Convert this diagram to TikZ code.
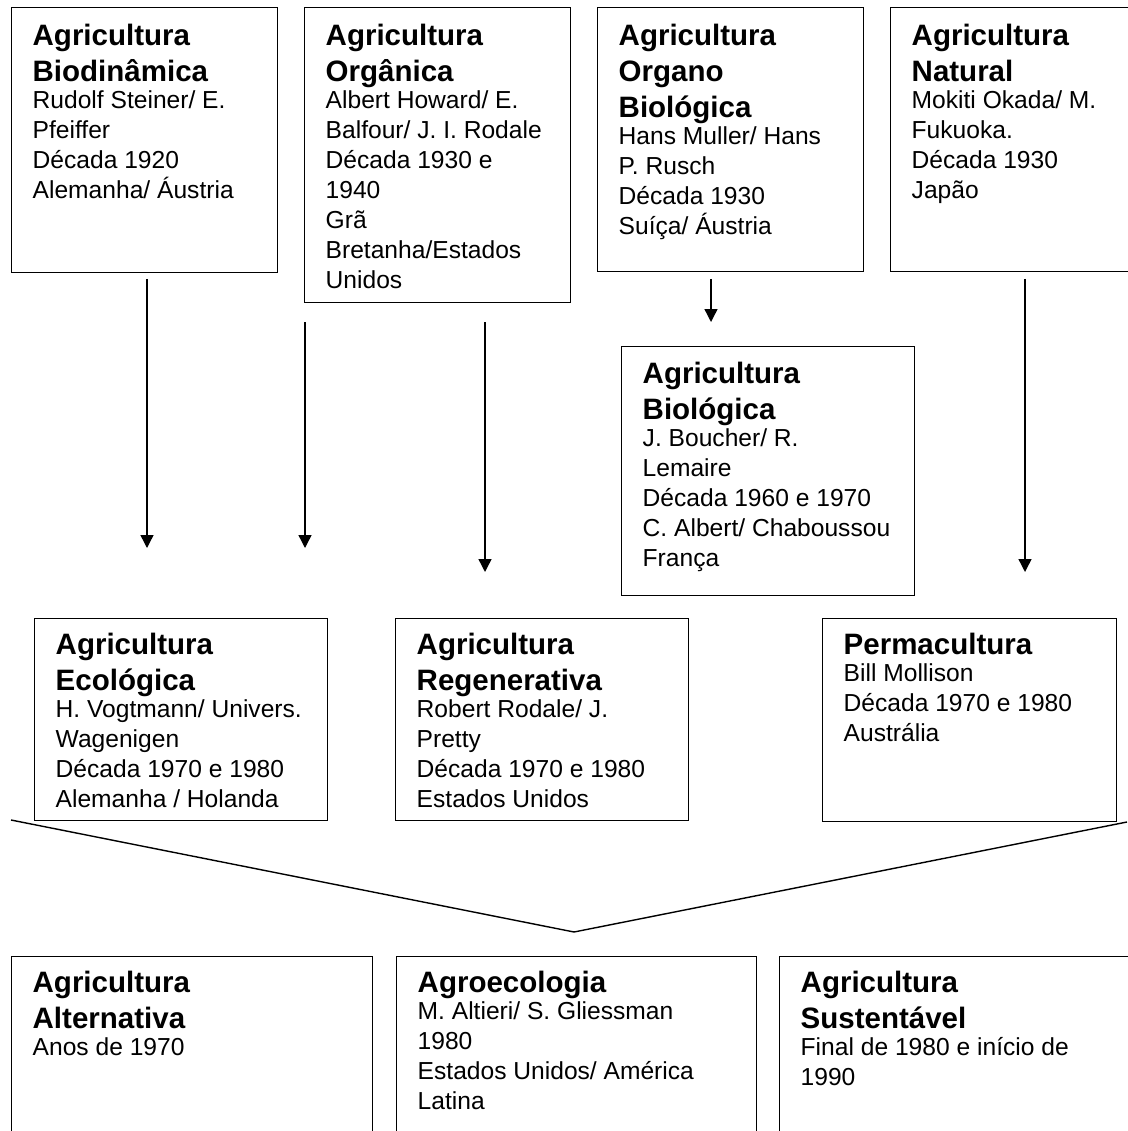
\documentclass[tikz,border=0pt]{standalone}
\usepackage{fontspec}
\setmainfont{Liberation Sans}
\usetikzlibrary{arrows.meta}
\newcommand{\agtit}{\fontsize{29.5}{36}\selectfont\bfseries\spaceskip=0.278em\relax}
\newcommand{\agtxt}{\fontsize{24.6}{30}\selectfont\spaceskip=0.278em\relax}
\newcommand{\agr}[2]{{\agtit #1\par}\vspace{-3pt}{\agtxt #2\par}}

\begin{document}
\begin{tikzpicture}[x=1pt,y=-1pt
  ,>={Triangle[length=13pt,width=13pt]}
  ,line width=1.4pt]
  \tikzstyle{agbox}=[draw,rectangle,anchor=north west,align=left
  ,inner xsep=21pt,inner ysep=0pt,text height=38pt]

  \useasboundingbox (0,0) rectangle (1127,1131);

  % top row
  \node[agbox,text width=224pt,text depth=227pt] (bd) at (11,7)
  {\agr{Agricultura\\Biodinâmica}{Rudolf Steiner/ E.\\Pfeiffer\\Década 1920\\Alemanha/ Áustria}};
  \node[agbox,text width=224pt,text depth=257pt] (org) at (304,7)
  {\agr{Agricultura\\Orgânica}{Albert Howard/ E.\\Balfour/ J. I. Rodale\\Década 1930 e\\1940\\Grã\\Bretanha/Estados\\Unidos}};
  \node[agbox,text width=224pt,text depth=226pt] (orgbio) at (597,7)
  {\agr{Agricultura\\Organo\\Biológica}{Hans Muller/ Hans\\P. Rusch\\Década 1930\\Suíça/ Áustria}};
  \node[agbox,text width=224pt,text depth=226pt] (nat) at (890,7)
  {\agr{Agricultura\\Natural}{Mokiti Okada/ M.\\Fukuoka.\\Década 1930\\Japão}};
  \node[agbox,text width=251pt,text height=37pt,text depth=212pt] (bio) at (621,346)
  {\agr{Agricultura\\Biológica}{J. Boucher/ R.\\Lemaire\\Década 1960 e 1970\\C. Albert/ Chaboussou\\França}};

  % middle row
  \node[agbox,text width=251pt,text height=36pt,text depth=166pt] (eco) at (34,618)
  {\agr{Agricultura\\Ecológica}{H. Vogtmann/ Univers.\\Wagenigen\\Década 1970 e 1980\\Alemanha / Holanda}};
  \node[agbox,text width=251pt,text height=36pt,text depth=166pt] (reg) at (395,618)
  {\agr{Agricultura\\Regenerativa}{Robert Rodale/ J.\\Pretty\\Década 1970 e 1980\\Estados Unidos}};
  \node[agbox,text width=252pt,text height=36pt,text depth=167pt] (perm) at (822,618)
  {\agr{Permacultura}{Bill Mollison\\Década 1970 e 1980\\Austrália}};

  % bottom row
  \node[agbox,text width=319pt,text height=36pt,text depth=200pt] (alt) at (11,956)
  {\agr{Agricultura\\Alternativa}{Anos de 1970}};
  \node[agbox,text width=318pt,text height=36pt,text depth=200pt] (agro) at (396,956)
  {\agr{Agroecologia}{M. Altieri/ S. Gliessman\\1980\\Estados Unidos/ América\\Latina}};
  \node[agbox,text width=318pt,text height=36pt,text depth=200pt] (sust) at (779,956)
  {\agr{Agricultura\\Sustentável}{Final de 1980 e início de\\1990}};

  \coordinate (bdout)  at (147,279);  \coordinate (ecoin1) at (147,548);
  \coordinate (orgout1) at (305,322); \coordinate (ecoin2) at (305,548);
  \coordinate (orgout2) at (485,322); \coordinate (regin)  at (485,572);
  \coordinate (obout)  at (711,279);  \coordinate (bioin)  at (711,322);
  \coordinate (natout) at (1025,279); \coordinate (permin) at (1025,572);

  \path[->]
  (bdout)   edge (ecoin1)
  (orgout1) edge (ecoin2)
  (orgout2) edge (regin)
  (obout)   edge (bioin)
  (natout)  edge (permin)
  ;

  % the V
  \coordinate (vleft)  at (11,820);
  \coordinate (vtip)   at (574,932);
  \coordinate (vright) at (1127,822);
  \draw (vleft) -- (vtip) -- (vright);

\end{tikzpicture}
\end{document}
